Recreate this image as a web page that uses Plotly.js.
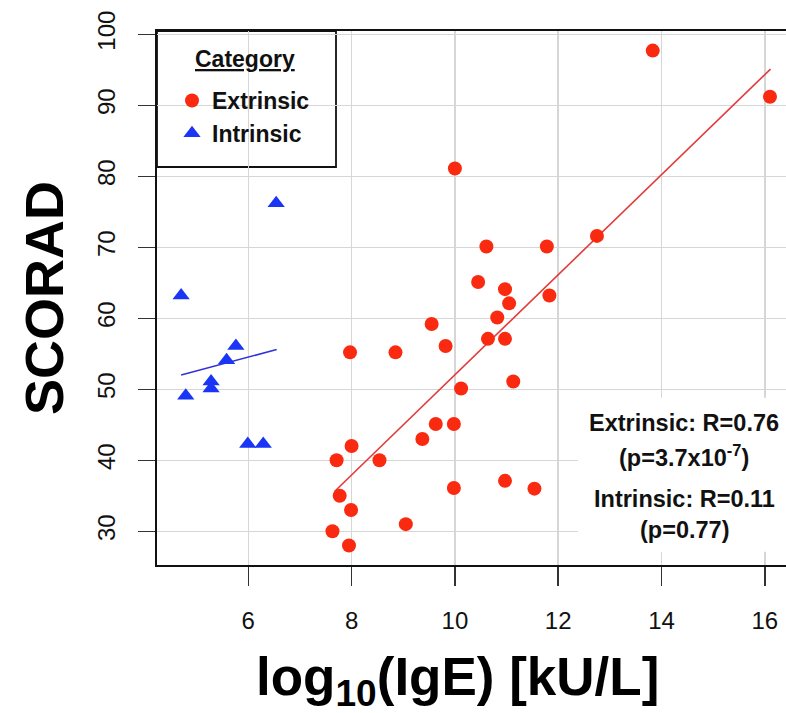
<!DOCTYPE html>
<html>
<head>
<meta charset="utf-8">
<script src="https://cdn.plot.ly/plotly-3.0.1.min.js"></script>
<style>
html,body{margin:0;padding:0;background:#fff;overflow:hidden;}
#chart{width:786px;height:713px;}
</style>
</head>
<body>
<div id="chart"></div>
<script>
// Extrinsic patients: log10(IgE) vs SCORAD
const extrinsicX = [10.00, 10.61, 11.78, 12.75, 10.45, 10.97, 11.05, 11.83, 10.82, 9.55, 10.64, 10.97, 9.82, 7.97, 8.85, 11.13, 10.12, 9.63, 9.98, 9.37, 8.00, 7.71, 8.54, 7.77, 9.98, 10.97, 11.54, 7.99, 9.05, 7.63, 7.95, 13.83, 16.10];
const extrinsicY = [81.1, 70.1, 70.1, 71.6, 65.1, 64.1, 62.1, 63.2, 60.1, 59.2, 57.1, 57.1, 56.1, 55.2, 55.2, 51.1, 50.1, 45.1, 45.1, 43.0, 42.0, 40.0, 40.0, 35.0, 36.1, 37.1, 36.0, 33.0, 31.0, 30.0, 28.0, 97.7, 91.2];
// Intrinsic patients
const intrinsicX = [4.70, 5.76, 5.58, 5.28, 5.28, 4.79, 5.99, 6.29, 6.54];
const intrinsicY = [63.2, 56.1, 54.1, 51.1, 50.1, 49.1, 42.3, 42.3, 76.2];
// Regression line end points
const extFitX = [7.67, 16.11];
const extFitY = [35.6, 95.1];
const intFitX = [4.70, 6.55];
const intFitY = [52.0, 55.6];
// Axis ticks
const xTicks = [6, 8, 10, 12, 14, 16];
const yTicks = [30, 40, 50, 60, 70, 80, 90, 100];
// Statistics text
const statLines = ["Extrinsic: R=0.76", "(p=3.7x10<sup>-7</sup>)", "Intrinsic: R=0.11", "(p=0.77)"];
const legendTitle = "Category";

const FONT = "'Liberation Sans', Arial, Helvetica, sans-serif";
const RED = '#f92a10';
const BLUE = '#1a35f5';

// plot area in pixels
const L = 157, T = 31, R = 786, B = 565;
const px = x => (x - L) / (R - L);
const py = y => (B - y) / (B - T);

const traces = [
  {x: extFitX, y: extFitY, mode: 'lines', line: {color: '#e33b3b', width: 1.6}, showlegend: false, hoverinfo: 'skip'},
  {x: intFitX, y: intFitY, mode: 'lines', line: {color: '#3232d8', width: 1.6}, showlegend: false, hoverinfo: 'skip'},
  {x: extrinsicX, y: extrinsicY, mode: 'markers', name: 'Extrinsic',
   marker: {symbol: 'circle', size: 14, color: RED, line: {width: 0}}},
  {x: intrinsicX, y: intrinsicY, mode: 'markers', name: 'Intrinsic',
   marker: {symbol: 'triangle-up', size: 15, color: BLUE, line: {width: 0}}}
];

const statY = [423, 456, 499, 530];
const annotations = statLines.map((t, i) => ({
  text: '<b>' + t + '</b>', xref: 'paper', yref: 'paper', x: px(684), y: py(statY[i]),
  xanchor: 'center', yanchor: 'middle', showarrow: false,
  font: {family: FONT, size: 23.5, color: '#111'}
}));
annotations.push({
  text: '<b>log<sub>10</sub>(IgE) [kU/L]</b>', xref: 'paper', yref: 'paper',
  x: px(457), y: py(680), xanchor: 'center', yanchor: 'middle', showarrow: false,
  font: {family: FONT, size: 53, color: '#000'}
});
annotations.push({
  text: '<b><span style="text-decoration:underline">' + legendTitle + '</span></b>', xref: 'paper', yref: 'paper',
  x: px(245), y: py(59), xanchor: 'center', yanchor: 'middle', showarrow: false,
  font: {family: FONT, size: 23, color: '#111'}
});

const layout = {
  width: 786, height: 713,
  margin: {l: L, r: 786 - R, t: T, b: 713 - B, pad: 0},
  paper_bgcolor: '#fff', plot_bgcolor: '#fff',
  font: {family: FONT, color: '#111'},
  xaxis: {
    range: [4.233, 16.41], tickvals: xTicks, ticktext: xTicks.map(String),
    showgrid: true, gridcolor: '#d6d6d6', gridwidth: 1.5, zeroline: false,
    showline: true, linecolor: '#111', linewidth: 1.8, mirror: true,
    ticks: 'outside', ticklen: 19, tickwidth: 1.5, tickcolor: '#333',
    ticklabelstandoff: 14,
    tickfont: {family: FONT, size: 24, color: '#111'}
  },
  yaxis: {
    range: [25.25, 100.46], tickvals: yTicks, ticktext: yTicks.map(String),
    showgrid: true, gridcolor: '#d6d6d6', gridwidth: 1.5, zeroline: false,
    showline: true, linecolor: '#111', linewidth: 1.8, mirror: false,
    ticks: 'outside', ticklen: 17, tickwidth: 1.5, tickcolor: '#333',
    tickangle: -90, ticklabelstandoff: 14,
    tickfont: {family: FONT, size: 24, color: '#111'},
    title: {text: '<b>SCORAD</b>', font: {family: FONT, size: 54, color: '#000'}, standoff: 12}
  },
  showlegend: true,
  legend: {
    x: px(172), y: py(79), xanchor: 'left', yanchor: 'top',
    bgcolor: 'rgba(0,0,0,0)', borderwidth: 0,
    font: {family: FONT, size: 23, color: '#111', weight: 'bold'},
    itemsizing: 'trace', tracegroupgap: 0
  },
  shapes: [
    {type: 'rect', xref: 'paper', yref: 'paper', x0: px(157), x1: px(336), y0: py(167), y1: py(31),
     line: {color: '#111', width: 1.8}, fillcolor: '#fff', layer: 'between'},
    {type: 'rect', xref: 'x', yref: 'y', x0: 12.38, x1: 16.41, y0: 27.1, y1: 48.8,
     line: {width: 0}, fillcolor: '#fff', layer: 'between'}
  ],
  annotations: annotations
};

Plotly.newPlot('chart', traces, layout, {staticPlot: true, displayModeBar: false});
</script>
</body>
</html>
